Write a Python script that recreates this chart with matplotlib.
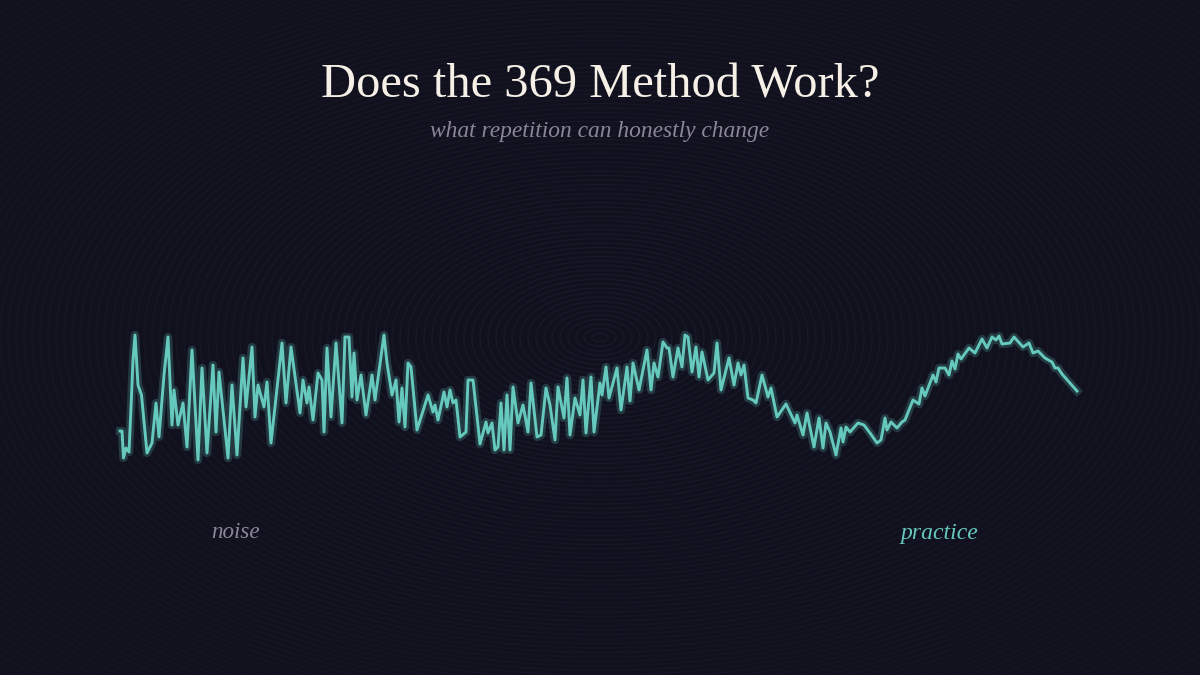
import matplotlib.pyplot as plt
from matplotlib.patches import Ellipse
import numpy as np

# trace of the line
line_x = [120,122,123.5,126,129,131,133,135,138,141.5,147,152,156,159,164,168,172,174,178,183,187,192,198,202,207,213,216,219,228,232,237,243,246,252,255,258,264,267,271,282,286,291,300,303,307,309,313,318,322,324,327,331,336,342,345,349,352,354,357,361,366,372,375,384,387,392,396,399,402,405,408,411,417,428,433,435,438,444,447,450,453,456,460,466,468,473,480,486,488,492,495,498,501,504,507,510,513,518,523,528,531,537,541,546,550,555,558,564,567,570,575,580,583,586,591,594,600,602,606,609,617,621,627,630,633,639,647,651,654,658,663,667,669,673,678,682,685,688,692,696,699,702,708,714,717,721,729,734,738,741,744,748,753,756,762,768,771,777,786,795,797,803,807,814,819,823,826,830,836,841,843,846,850,858,864,870,877,881,885,887,891,897,902,905,913,919,922,925,933,936,939,945,949,952,955,958,961,969,975,982,987,992,996,999,1002,1010,1014,1023,1029,1033,1038,1045,1052,1055,1058,1062,1077]
line_y = [431,431,458,448,452,408,360,335,385,395,453,443,403,437,375,337,425,390,425,403,447,350,460,368,453,365,432,372,458,385,455,358,407,347,417,385,407,382,443,343,403,347,413,380,403,387,420,373,380,432,348,417,343,423,337,337,397,353,400,375,415,375,400,335,363,395,380,422,388,427,363,367,430,395,412,405,420,392,407,390,403,400,437,432,380,380,444,422,433,423,450,447,403,450,395,450,387,423,405,432,383,437,435,388,405,440,387,418,378,435,398,415,380,433,377,432,383,395,367,398,368,410,367,401,363,390,350,390,363,377,342,348,348,377,348,367,335,337,372,347,377,352,380,373,343,390,358,385,363,375,365,398,400,403,375,397,388,417,404,423,415,435,413,447,418,448,423,432,455,428,442,427,432,423,425,433,443,440,418,430,422,428,422,420,400,404,388,396,375,382,368,368,375,361,369,354,359,348,353,339,348,337,340,336,344,343,337,347,343,353,351,358,362,368,368,374,391]

title = "Does the 369 Method Work?"
subtitle = "what repetition can honestly change"
left_label = "noise"
right_label = "practice"

bg = "#11111e"
teal = "#66c9bd"
grey = "#8a8798"
serif = ["Liberation Serif", "DejaVu Serif"]

fig = plt.figure(figsize=(12, 6.75), dpi=100, facecolor=bg)
ax = fig.add_axes([0, 0, 1, 1])
ax.set_xlim(0, 1200)
ax.set_ylim(675, 0)
ax.axis("off")

# faint concentric rings behind everything
for r in np.arange(1, 160):
    ring = Ellipse((600, 337.5), 16 * r, 9 * r, fill=False, edgecolor="#20213a",
                   linewidth=0.7, alpha=max(0.25, 0.6 - r * 0.004), zorder=1)
    ax.add_patch(ring)

# glow + line
ax.plot(line_x, line_y, color=teal, lw=6.0, alpha=0.22, zorder=2, solid_joinstyle="round")
ax.plot(line_x, line_y, color=teal, lw=2.1, zorder=3, solid_joinstyle="round")

ax.text(600, 97, title, color="#f5efe6", fontsize=34.9, family=serif, ha="center", va="baseline")
ax.text(600, 137, subtitle, color=grey, fontsize=16.9, style="italic", family=serif, ha="center", va="baseline")
ax.text(235, 538.5, left_label, color=grey, fontsize=16.6, style="italic", family=serif, ha="center", va="baseline")
ax.text(939, 538.5, right_label, color=teal, fontsize=17, style="italic", family=serif, ha="center", va="baseline")

fig.savefig("out.png", dpi=100, facecolor=bg)
